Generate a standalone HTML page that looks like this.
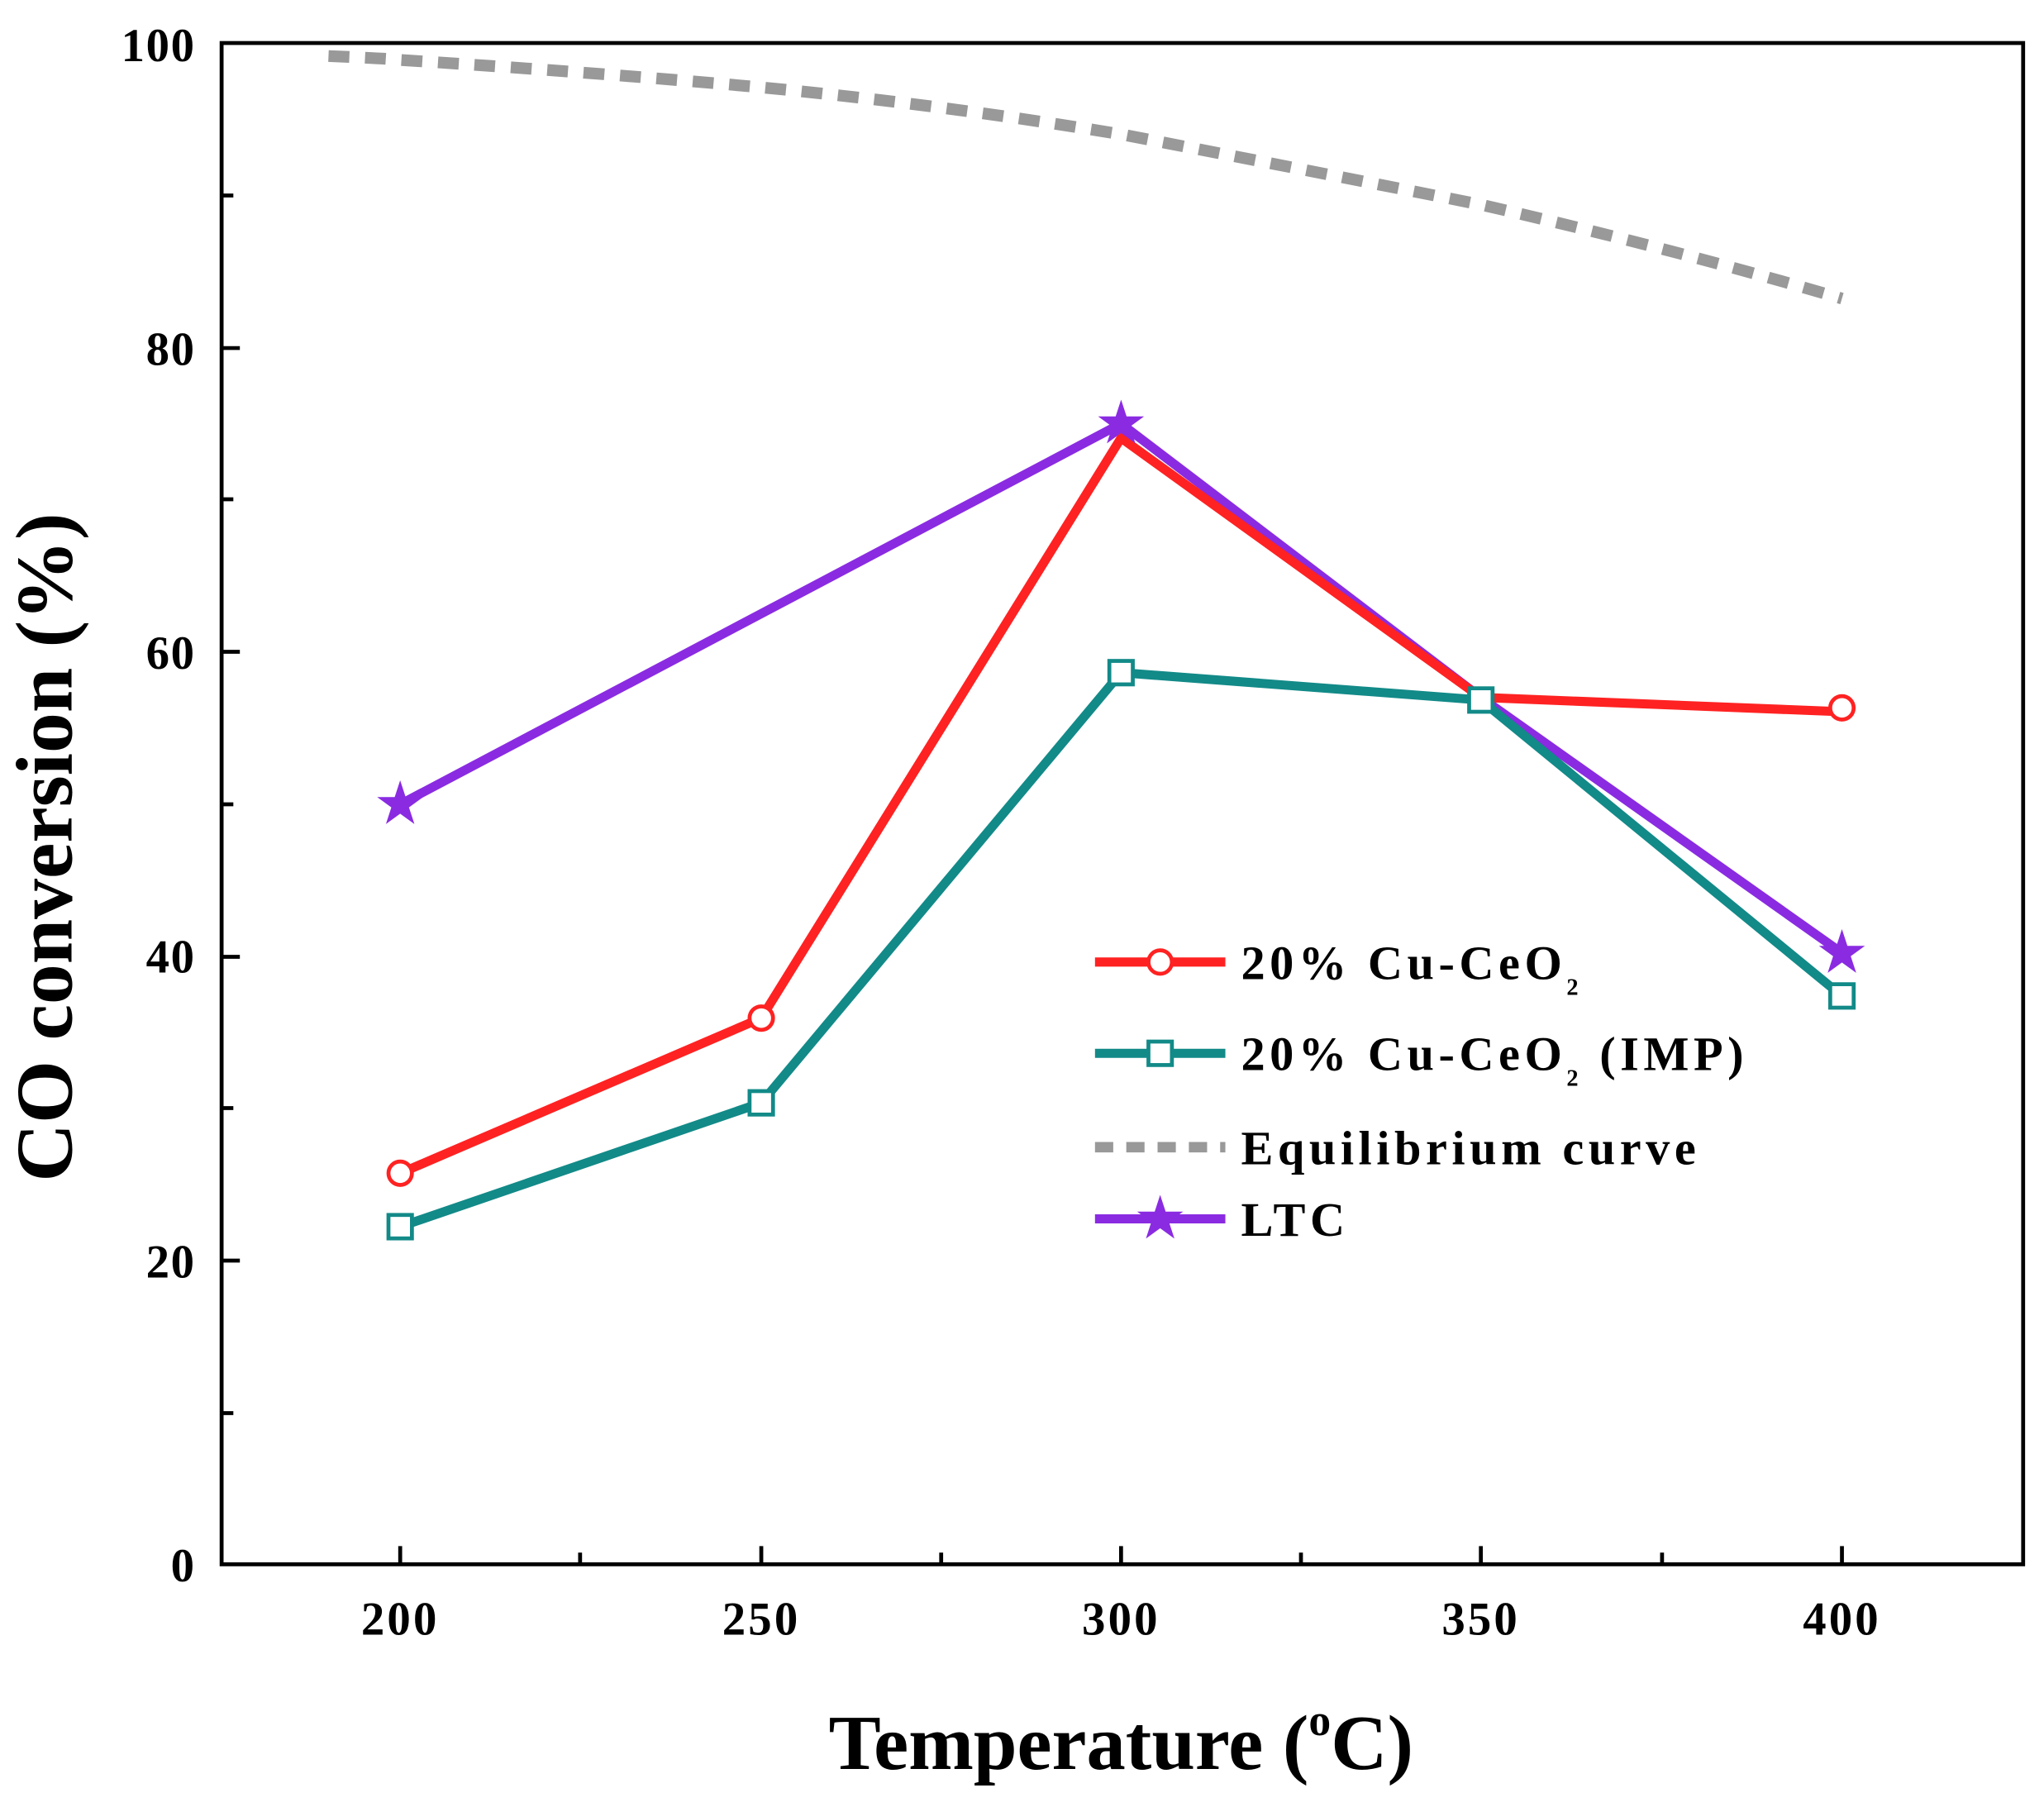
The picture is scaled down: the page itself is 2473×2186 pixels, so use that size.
<!DOCTYPE html>
<html><head><style>html,body{margin:0;padding:0;background:#fff}</style></head><body>
<svg width="2473" height="2181" viewBox="0 0 1568 1383" preserveAspectRatio="none" xmlns="http://www.w3.org/2000/svg" font-family="Liberation Serif, serif" font-weight="bold">
<rect width="1568" height="1383" fill="#fff"/>
<g stroke="#000" stroke-width="3" fill="none">
<rect x="170" y="33" width="1382" height="1167"/>
<path d="M170 150h9M170 383h9M170 617h9M170 850h9M170 1084h9M170 267h14M170 500h14M170 734h14M170 967h14"/>
<path d="M307 1200v-14M584 1200v-14M860 1200v-14M1136 1200v-14M1413 1200v-14M445 1200v-9M722 1200v-9M998 1200v-9M1275 1200v-9"/>
</g>
<g font-size="36" text-anchor="end" letter-spacing="1">
<text x="150" y="1213">0</text><text x="150" y="980">20</text><text x="150" y="746">40</text><text x="150" y="513">60</text><text x="150" y="280">80</text><text x="150" y="47">100</text>
</g>
<g font-size="36" text-anchor="middle" letter-spacing="2">
<text x="307" y="1254">200</text><text x="584" y="1254">250</text><text x="860" y="1254">300</text><text x="1136" y="1254">350</text><text x="1413" y="1254">400</text>
</g>
<text x="860" y="1357" font-size="60" text-anchor="middle">Temperature (<tspan font-size="34" dy="-26">o</tspan><tspan dy="26">C)</tspan></text>
<text transform="translate(55 650) rotate(-90)" font-size="62" text-anchor="middle">CO conversion (%)</text>
<path d="M252 43 Q300 45 307 46 Q450 55 584 67 Q720 80 860 103 Q1000 130 1136 157 Q1280 190 1413 229" fill="none" stroke="#999" stroke-width="9" stroke-dasharray="16 12"/>
<polyline points="307,617 860,325 1136,535 1413,731" fill="none" stroke="#8a2be2" stroke-width="7"/>
<polyline points="307,900 584,781 860,336 1136,535 1413,546" fill="none" stroke="#f22" stroke-width="7"/>
<polyline points="307,941 584,846 860,516 1136,537 1413,764" fill="none" stroke="#128a88" stroke-width="7"/>
<g fill="#fff" stroke="#f22" stroke-width="3">
<circle cx="307" cy="900" r="9"/><circle cx="584" cy="781" r="9"/><circle cx="1413" cy="543" r="9"/>
</g>
<g fill="#fff" stroke="#128a88" stroke-width="3">
<rect x="298" y="932" width="18" height="18"/><rect x="575" y="837" width="18" height="18"/><rect x="851" y="507" width="18" height="18"/><rect x="1127" y="528" width="18" height="18"/><rect x="1404" y="755" width="18" height="18"/>
</g>
<g fill="#8a2be2">
<text x="307" y="632" font-size="46" text-anchor="middle" font-family="DejaVu Sans">★</text>
<text x="860" y="340" font-size="46" text-anchor="middle" font-family="DejaVu Sans">★</text>
<text x="1413" y="746" font-size="46" text-anchor="middle" font-family="DejaVu Sans">★</text>
</g>
<g stroke-width="7" fill="none">
<path d="M840 738h100" stroke="#f22"/>
<path d="M840 808h100" stroke="#128a88"/>
<path d="M840 880h100" stroke="#999" stroke-width="8" stroke-dasharray="14 10"/>
<path d="M840 935h100" stroke="#8a2be2"/>
</g>
<circle cx="890" cy="738" r="9" fill="#fff" stroke="#f22" stroke-width="3"/>
<rect x="881" y="799" width="18" height="18" fill="#fff" stroke="#128a88" stroke-width="3"/>
<text x="890" y="950" font-size="46" text-anchor="middle" fill="#8a2be2" font-family="DejaVu Sans">★</text>
<g font-size="37" letter-spacing="3.5">
<text x="952" y="751">20% Cu-CeO<tspan font-size="18" dy="12">2</tspan></text>
<text x="952" y="821">20% Cu-CeO<tspan font-size="18" dy="12">2</tspan><tspan dy="-12"> (IMP)</tspan></text>
<text x="952" y="893">Equilibrium curve</text>
<text x="952" y="948">LTC</text>
</g>
</svg>
</body></html>
